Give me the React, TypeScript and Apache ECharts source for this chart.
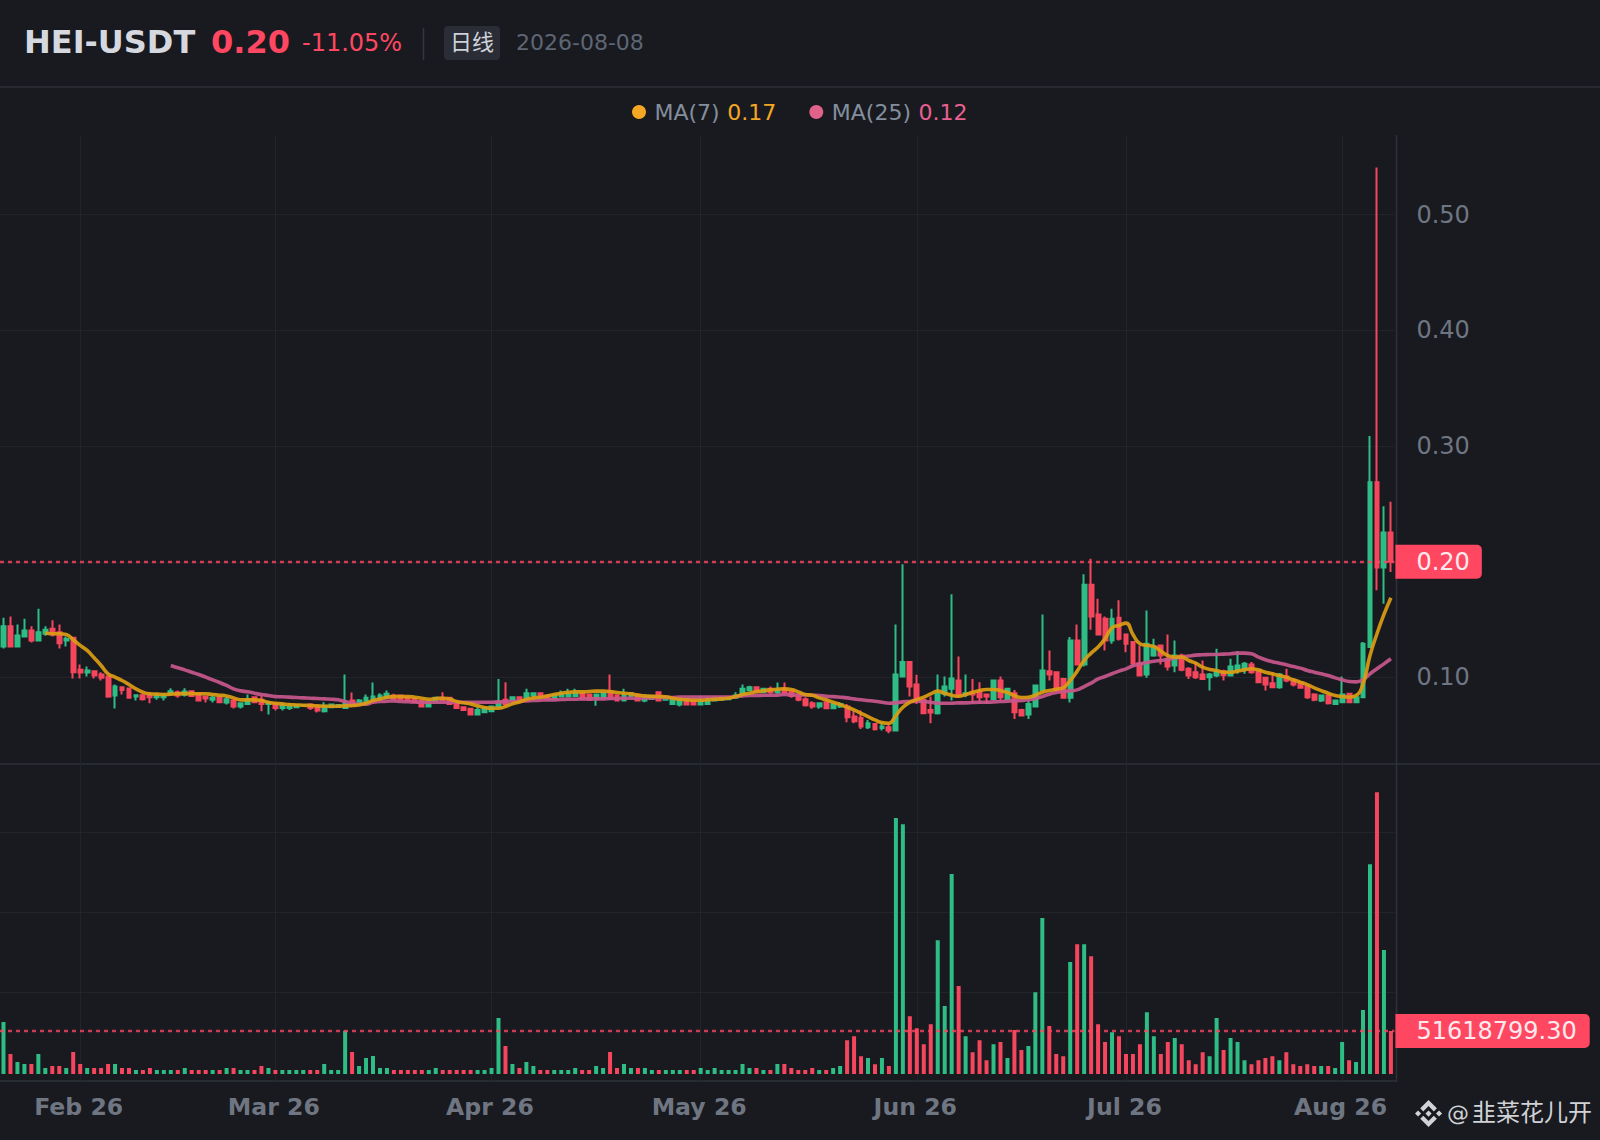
import React, { useEffect, useRef } from "react";
import * as echarts from "echarts";

const FONT = "'DejaVu Sans', 'Noto Sans CJK SC', sans-serif";
const BG = "#181a20";
const UP = "#2ebd85";
const DOWN = "#f6465d";
const ACCENT = "#ff4761";
const GRID = "#212429";
const AXIS = "#2d3238";
const MUTED = "#6f7682";

const startDate = [2026, 0, 21];
const barCount = 200;
const priceTicks = [0.1, 0.2, 0.3, 0.4, 0.5];
const volumeTicks = [100, 200, 300];
const lastPriceLevel = 0.1992;
const lastVolume = 51.6187993;

// [open, high, low, close]
const ohlc: number[][] = [
[.1268,.1517,.1251,.1442],[.1442,.1528,.1268,.1268],[.1268,.1459,.1268,.1364],[.1355,.1508,.1355,.1407],[.1407,.1442,.1303,.132],
[.132,.1595,.132,.1392],[.1378,.1442,.136,.1413],[.1421,.1494,.1355,.1372],[.1392,.1459,.1251,.1297],[.132,.1355,.1268,.1335],
[.1343,.1343,.0991,.1046],[.1066,.1113,.0991,.1043],[.1043,.1095,.1009,.1061],[.1055,.1055,.0991,.1017],[.1026,.1046,.0974,.0997],
[.1009,.1009,.0824,.0835],[.0844,.0939,.0732,.0922],[.0916,.0916,.0853,.0893],[.0905,.0905,.0824,.0824],[.0835,.0847,.0801,.0847],
[.0847,.0859,.0801,.0812],[.0847,.087,.0778,.083],[.083,.0864,.0807,.0844],[.083,.0864,.0801,.0844],[.0859,.0908,.0844,.0882],
[.0873,.0887,.0824,.0844],[.085,.0908,.0835,.0879],[.0882,.0887,.0835,.0841],[.0859,.0859,.0801,.0801],[.0835,.0844,.0784,.0818],
[.0807,.0859,.0784,.0824],[.083,.0844,.0778,.0786],[.0784,.0835,.0766,.0812],[.0801,.0815,.0732,.0749],[.0749,.0786,.0732,.0778],
[.0772,.0853,.0766,.0807],[.083,.0835,.0778,.0786],[.0807,.0844,.0709,.0772],[.0772,.0795,.068,.0784],[.0778,.0778,.0714,.0737],
[.0737,.0778,.0714,.0758],[.0737,.0778,.072,.0749],[.0743,.0766,.0737,.076],[.0755,.0766,.0749,.076],[.0766,.0778,.072,.0737],
[.0749,.0758,.0697,.0714],[.0709,.0786,.0697,.0755],[.0743,.0772,.0737,.0766],[.0745,.0766,.074,.0762],[.0737,.1026,.0729,.0772],
[.0801,.087,.0743,.0758],[.0772,.0815,.0766,.0801],[.0795,.0853,.0778,.0824],[.0807,.0957,.0786,.0835],[.0815,.0864,.0801,.0844],
[.0824,.0887,.0812,.0859],[.0844,.0859,.0807,.0815],[.0844,.0853,.0801,.0812],[.083,.0835,.0795,.0801],[.0815,.0824,.0778,.0786],
[.0801,.0807,.0743,.0749],[.0749,.0795,.0743,.0786],[.0795,.083,.0786,.0824],[.0824,.0873,.0795,.0801],[.0824,.083,.0766,.0772],
[.0778,.0786,.0729,.0737],[.0743,.0749,.0715,.072],[.0729,.0737,.0675,.068],[.068,.0749,.0675,.072],[.07,.0743,.0695,.0737],
[.0708,.0755,.07,.0749],[.0749,.0988,.0737,.0786],[.0807,.096,.0758,.0772],[.0801,.0835,.0795,.083],[.083,.0835,.0789,.0795],
[.0818,.0902,.0812,.0864],[.0847,.0873,.0807,.0864],[.0864,.0864,.0818,.0824],[.0844,.0849,.0809,.0815],[.0818,.0853,.0807,.0847],
[.0835,.0887,.083,.0858],[.0835,.0902,.083,.0858],[.0841,.0902,.083,.0864],[.0864,.087,.0807,.0812],[.0853,.0858,.0801,.0807],
[.0815,.0858,.0755,.0853],[.0824,.087,.0815,.0864],[.0873,.1026,.0807,.0815],[.0847,.0853,.0795,.0801],[.0801,.0902,.0795,.0844],
[.0835,.087,.083,.0864],[.0853,.0858,.0795,.0801],[.0801,.084,.0786,.0835],[.0815,.0847,.0809,.0841],[.0873,.0878,.0795,.0801],
[.0807,.0835,.0801,.083],[.0772,.0813,.0766,.0807],[.0766,.0813,.0749,.0807],[.0807,.0813,.076,.0766],[.0801,.0807,.076,.0766],
[.0766,.0835,.076,.0801],[.0772,.0835,.0766,.0801],[.0801,.083,.0795,.0824],[.0807,.083,.0801,.0824],[.0812,.0835,.0807,.083],
[.0824,.0873,.0818,.0844],[.0853,.0939,.0844,.0902],[.0889,.0928,.0879,.0916],[.0916,.0922,.0873,.0879],[.0873,.0908,.0868,.0902],
[.0902,.0922,.0853,.0873],[.0873,.0957,.0853,.0893],[.0902,.0957,.0853,.0873],[.0882,.0885,.0826,.0841],[.0853,.0858,.0795,.0807],
[.0812,.083,.0749,.076],[.0778,.0795,.0729,.0749],[.0749,.0784,.0729,.0778],[.0786,.0795,.0729,.0734],[.0734,.0778,.0729,.0772],
[.0749,.0786,.0737,.0772],[.0749,.0772,.0613,.0657],[.0662,.0714,.0605,.0622],[.0651,.0714,.0556,.0576],[.057,.0633,.0556,.0605],
[.0599,.0599,.0541,.0553],[.0564,.0613,.0541,.0576],[.057,.0599,.0518,.0541],[.0541,.1459,.0541,.1026],[.1009,.1978,.1009,.1133],
[.1133,.1141,.0835,.0922],[.0939,.1023,.0772,.0807],[.0807,.0807,.0685,.0691],[.072,.0836,.0605,.0697],[.0691,.1026,.068,.0859],
[.0859,.1009,.0836,.0922],[.0902,.1719,.0801,.0991],[.0974,.1182,.083,.0853],[.0853,.1026,.083,.0864],[.0864,.0988,.0772,.0853],
[.0873,.096,.0772,.083],[.0853,.0853,.0772,.0836],[.0815,.0974,.0807,.0974],[.0974,.1009,.0801,.083],[.0815,.0902,.0807,.0902],
[.0864,.0893,.0642,.07],[.072,.0729,.0665,.0671],[.068,.0801,.0642,.0772],[.0749,.0939,.0743,.0931],[.0893,.1545,.0887,.1061],
[.1055,.1234,.0974,.1026],[.1046,.1055,.0873,.0887],[.0988,.0997,.0818,.0824],[.0824,.1349,.0784,.132],[.132,.1459,.1104,.1113],
[.1113,.1892,.1095,.1802],[.1802,.2027,.1413,.1528],[.1545,.1681,.1372,.1372],[.1508,.1528,.1234,.132],[.132,.1595,.1291,.1508],
[.1517,.1667,.132,.1335],[.1372,.1372,.1219,.1291],[.1306,.1306,.1095,.1124],[.1124,.1277,.1009,.1017],[.1026,.158,.0997,.1291],
[.119,.1335,.1179,.1268],[.1277,.1286,.1113,.119],[.1162,.1372,.1061,.1095],[.1104,.132,.1046,.119],[.119,.1205,.1055,.1066],
[.1075,.1089,.0988,.1017],[.1046,.1133,.0988,.1003],[.1026,.1147,.098,.0988],[.1003,.1038,.0887,.1026],[.1017,.1248,.1003,.1046],
[.1055,.1066,.0974,.102],[.1017,.1162,.1009,.1095],[.1061,.1228,.1032,.1104],[.1075,.1133,.1032,.1118],[.1113,.1133,.1032,.1046],
[.1055,.1061,.0951,.096],[.0997,.1003,.0887,.0939],[.0951,.1046,.0911,.0916],[.0916,.1038,.0902,.1026],[.1009,.1075,.096,.0974],
[.098,.0986,.0922,.0939],[.096,.0965,.0902,.0911],[.0922,.0939,.0815,.083],[.0853,.0864,.0795,.0807],[.0801,.0853,.0789,.0844],
[.0844,.0853,.0766,.0778],[.0772,.0807,.0766,.0801],[.0786,.1009,.0778,.0853],[.0859,.0859,.0778,.0786],[.0786,.083,.0778,.083],
[.083,.1306,.0824,.1291],[.1263,.3087,.1263,.2688],[.2688,.5407,.1753,.195],[.195,.248,.1638,.2253],[.2253,.2518,.1912,.2],
];

const volumes: number[] = [
62.8,22.8,12.8,10.3,10.3,22.8,5.3,7.8,7.8,5.3,25.3,10.3,5.3,5.3,5.3,10.3,10.3,5.3,5.3,2.8,
2.8,5.3,2.8,2.8,2.8,2.8,5.3,2.8,2.8,2.8,2.8,2.8,5.3,5.3,2.8,2.8,2.8,7.8,5.3,2.8,
2.8,2.8,2.8,2.8,2.8,2.8,10.3,2.8,2.8,52,25.3,7.8,17.8,20.3,5.3,5.3,2.8,2.8,2.8,2.8,
2.8,2.8,5.3,2.8,2.8,2.8,2.8,2.8,2.8,2.8,5.3,67.8,32.8,10.3,5.3,12.8,7.8,2.8,2.8,2.8,
2.8,2.8,5.3,2.8,2.8,7.8,5.3,25.3,5.3,10.3,5.3,5.3,5.3,2.8,2.8,2.8,2.8,2.8,2.8,2.8,
5.3,2.8,5.3,2.8,2.8,2.8,10.3,5.3,5.3,2.8,2.8,10.3,10.3,5.3,2.8,2.8,5.3,2.8,2.8,5.3,
7.8,40,45,20,17.8,10,17.8,7.8,317.8,310,70,55,35,60,165,82.8,247.8,107.8,45,25,
40,15,35,37.8,17.8,52.8,27.8,32.8,100,192.8,57.8,22.8,20,137.8,160,160,145,60,37.8,50,
45,22.8,22.8,35,75,45,22.8,37.8,42.8,35,15,10,25,20,67.8,27.8,42.8,37.8,15,10,
15,17.8,20,15,25,10,7.8,10,7.8,7.8,7.8,5.3,37.8,15,12.8,77.8,260,350,152.8,51.6,
];

const ma7: (number | null)[] = [
null,null,null,null,null,null,.1384,.1378,.1378,.1372,.1326,.1277,.1234,.117,.1104,.1032,.1003,.0974,.0939,.0902,
.0873,.0859,.0856,.0853,.0856,.0859,.0861,.0861,.0859,.0859,.0853,.0847,.0841,.0824,.0807,.0807,.0807,.0801,.0786,.0778,
.0772,.0766,.0763,.076,.0758,.0755,.0752,.0752,.0752,.0755,.0758,.0763,.0778,.0801,.0815,.083,.0835,.0835,.0835,.083,
.0821,.0812,.0818,.0821,.0815,.0792,.0781,.0772,.0755,.074,.0734,.0734,.0749,.0772,.0789,.081,.0824,.083,.0841,.0853,
.0864,.0873,.0876,.0876,.0879,.0882,.0882,.0879,.087,.0864,.0859,.0847,.0841,.0838,.0835,.0833,.0821,.0812,.0807,.0804,
.0804,.0807,.0812,.0815,.0821,.0835,.0853,.0864,.0876,.0885,.0893,.0899,.0902,.0896,.0876,.0853,.0847,.0824,.0807,.0786,
.0766,.0743,.072,.0691,.0662,.0633,.061,.0605,.0671,.0743,.0786,.0809,.083,.0859,.0882,.0864,.0847,.0838,.0853,.0873,
.0887,.0896,.0896,.0887,.087,.0844,.0827,.083,.0847,.0873,.0887,.0899,.0911,.0974,.1055,.1147,.1211,.1263,.1335,.143,
.145,.147,.1372,.1291,.1277,.1268,.1228,.119,.1176,.1176,.1147,.1124,.1089,.1069,.1061,.1046,.1046,.1055,.1066,.1075,
.1066,.1046,.1032,.1017,.1003,.098,.096,.0939,.0911,.0887,.0864,.0844,.0836,.083,.0844,.0945,.119,.1378,.1545,.169,
];

const ma25: (number | null)[] = [
null,null,null,null,null,null,null,null,null,null,null,null,null,null,null,null,null,null,null,null,
null,null,null,null,.1104,.1084,.1066,.1046,.1026,.1003,.098,.0957,.0931,.0902,.0885,.0876,.0864,.0853,.0844,.0835,
.0833,.083,.0827,.0824,.0821,.0818,.0815,.0812,.0807,.0792,.0778,.0769,.0769,.0786,.0792,.0795,.0798,.0792,.079,.0788,
.0786,.0786,.0786,.0786,.0786,.0786,.0786,.0786,.0786,.0786,.0786,.0789,.0789,.0792,.0795,.0798,.0801,.0804,.0807,.0807,
.081,.0812,.0812,.0815,.0815,.0815,.0815,.0818,.0818,.0821,.0821,.0821,.0824,.0824,.0827,.0827,.0827,.083,.083,.083,
.083,.083,.083,.083,.083,.0835,.0841,.0844,.0844,.0847,.0847,.0847,.0853,.085,.0847,.085,.0847,.0844,.0838,.0835,
.083,.0824,.0815,.0807,.0801,.0795,.0786,.0778,.0781,.0789,.0792,.0795,.0792,.0786,.0778,.0778,.0778,.0781,.0781,.0784,
.0786,.0786,.0789,.0792,.0795,.0798,.0801,.0807,.0818,.0835,.0856,.087,.0879,.0885,.0893,.0922,.0951,.0988,.1009,.1032,
.1055,.1075,.1101,.1118,.113,.1141,.1147,.1156,.117,.1176,.1185,.1193,.1196,.1199,.1199,.1202,.1205,.1211,.1211,.1205,
.1176,.1153,.1136,.1124,.111,.1095,.1081,.1061,.1046,.1032,.1017,.0997,.098,.0965,.0962,.098,.1032,.1075,.1118,.1162,
];

const MONTHS = ["Jan", "Feb", "Mar", "Apr", "May", "Jun", "Jul", "Aug"];
const categories: string[] = [];
for (let i = 0; i < barCount; i++) {
  const d = new Date(Date.UTC(startDate[0], startDate[1], startDate[2] + i));
  categories.push(`${d.getUTCFullYear()}-${String(d.getUTCMonth() + 1).padStart(2, "0")}-${String(d.getUTCDate()).padStart(2, "0")}`);
}
const isMonthStart = (_i: number, v: string) => v.endsWith("-01");
const monthLabel = (v: string) => `${MONTHS[Number(v.slice(5, 7)) - 1]} ${v.slice(2, 4)}`;

const BINANCE =
  "M38.73 53.2l24.59-24.58 24.6 24.6 14.3-14.31L63.32 0 24.42 38.9zM0 63.31L14.3 49l14.31 14.31-14.31 14.3zM38.73 73.41L63.32 98l24.6-24.6 14.31 14.29-38.9 38.91-38.91-38.88-.02-.02zM98 63.31L112.3 49l14.31 14.3-14.31 14.32zM77.83 63.3L63.32 48.78 52.59 59.51l-1.24 1.23-2.54 2.54 14.51 14.5 14.51-14.47z";
echarts.graphic.registerShape("binance", echarts.graphic.extendPath(BINANCE, {}) as any);

const GRID_LEFT = -2;
const GRID_WIDTH = 1396.4;
// The reference's volume bars stand on a small foot below the zero line.
const BAR_FOOT = 2.2;

const txt = (x: number, y: number, text: string, fontSize: number, fill: string, fontWeight = "normal") => ({
  type: "text",
  x,
  y,
  style: { text, fontSize, fill, fontWeight, fontFamily: FONT, textVerticalAlign: "middle", textBaseline: "middle" },
});
const hline = (x1: number, x2: number, y: number, stroke: string, lineWidth = 1) => ({
  type: "line",
  shape: { x1, y1: y, x2, y2: y },
  style: { stroke, lineWidth },
});

function buildOption(): any {
  const markLine = (value: number, text: string, right: number) => ({
    silent: true,
    symbol: "none",
    animation: false,
    lineStyle: { color: "rgba(255,71,97,0.78)", width: 2.4, type: [4, 4] },
    label: {
      show: true,
      position: "end",
      distance: 1,
      formatter: text,
      color: "#fdeaee",
      fontSize: 24,
      fontFamily: FONT,
      backgroundColor: ACCENT,
      borderRadius: [0, 5, 5, 0],
      padding: [5, right, 5, 21],
      lineHeight: 24,
    },
    emphasis: { disabled: true },
    data: [{ yAxis: value }],
  });
  return {
    animation: false,
    backgroundColor: BG,
    legend: {
      left: 632,
      top: 101,
      padding: 0,
      icon: "circle",
      itemWidth: 14,
      itemHeight: 14,
      itemGap: 33,
      selectedMode: false,
      data: ["MA(7)", "MA(25)"],
      formatter: (n: string) => (n === "MA(7)" ? `{n|MA(7)}  {a|0.17}` : `{n|MA(25)}  {b|0.12}`),
      textStyle: {
        fontFamily: FONT,
        rich: {
          n: { fontFamily: FONT, fontSize: 22, color: "#848e9c", padding: [0, 0, 0, 3.5] },
          a: { fontFamily: FONT, fontSize: 22, color: "#f5a623" },
          b: { fontFamily: FONT, fontSize: 22, color: "#e8608f" },
        },
      },
    },
    grid: [
      { left: GRID_LEFT, width: GRID_WIDTH, top: 135, height: 629 },
      { left: GRID_LEFT, width: GRID_WIDTH, top: 764, height: 317 },
    ],
    xAxis: [
      {
        type: "category",
        gridIndex: 0,
        data: categories,
        axisLine: { show: false },
        axisTick: { show: false },
        axisLabel: { show: false },
        splitLine: { show: true, interval: isMonthStart, alignWithLabel: true, lineStyle: { color: GRID, width: 1 } },
      },
      {
        type: "category",
        gridIndex: 1,
        data: categories,
        axisLine: { show: false },
        axisTick: { show: false },
        axisLabel: {
          show: true,
          interval: isMonthStart,
          formatter: monthLabel,
          fontFamily: FONT,
          fontSize: 23.6,
          fontWeight: "bold",
          color: MUTED,
          margin: 14,
          padding: [0, 3, 0, 0],
        },
        splitLine: { show: true, interval: isMonthStart, alignWithLabel: true, lineStyle: { color: GRID, width: 1 } },
      },
    ],
    yAxis: [
      {
        type: "value",
        gridIndex: 0,
        position: "right",
        min: 0.02525,
        max: 0.5688,
        axisLine: { show: false },
        axisTick: { show: false, customValues: priceTicks },
        axisLabel: {
          show: true,
          customValues: priceTicks,
          formatter: (v: number) => v.toFixed(2),
          fontFamily: FONT,
          fontSize: 24,
          color: MUTED,
          margin: 22,
          align: "left",
        },
        splitLine: { show: true, lineStyle: { color: GRID, width: 1 } },
      },
      {
        type: "value",
        gridIndex: 1,
        position: "right",
        min: -8.75,
        max: 387.5,
        axisLine: { show: false },
        axisTick: { show: false, customValues: volumeTicks.map((v) => v + BAR_FOOT) },
        axisLabel: { show: false },
        splitLine: { show: true, lineStyle: { color: GRID, width: 1 } },
      },
    ],
    series: [
      {
        type: "candlestick",
        name: "HEI-USDT",
        xAxisIndex: 0,
        yAxisIndex: 0,
        barWidth: 4.4,
        data: ohlc.map(([o, h, l, c]) => [o, c, l, h]),
        itemStyle: { color: UP, color0: DOWN, borderColor: UP, borderColor0: DOWN, borderColorDoji: UP, borderWidth: 2 },
        markLine: markLine(lastPriceLevel, "0.20", 12),
      },
      {
        type: "line",
        name: "MA(7)",
        xAxisIndex: 0,
        yAxisIndex: 0,
        data: ma7,
        smooth: true,
        showSymbol: false,
        itemStyle: { color: "#f5a623" },
        lineStyle: { color: "#dc9c14", width: 3.6, opacity: 0.92 },
        z: 4,
      },
      {
        type: "line",
        name: "MA(25)",
        xAxisIndex: 0,
        yAxisIndex: 0,
        data: ma25,
        smooth: true,
        showSymbol: false,
        itemStyle: { color: "#e0628a" },
        lineStyle: { color: "#c9578c", width: 3.6, opacity: 0.92 },
        z: 3,
      },
      {
        type: "bar",
        name: "Volume",
        xAxisIndex: 1,
        yAxisIndex: 1,
        barWidth: 4,
        data: volumes.map((v, i) => ({
          value: v + BAR_FOOT,
          itemStyle: { color: ohlc[i][3] >= ohlc[i][0] ? UP : DOWN },
        })),
        markLine: markLine(lastVolume + BAR_FOOT, "51618799.30", 13),
      },
    ],
    graphic: {
      elements: [
        txt(24, 42, "HEI-USDT", 32, "#d5d8df", "bold"),
        txt(211, 42, "0.20", 32, ACCENT, "bold"),
        txt(302, 43, "-11.05%", 24, ACCENT),
        { type: "line", shape: { x1: 423.5, y1: 28, x2: 423.5, y2: 60 }, style: { stroke: "#33373e", lineWidth: 1.5 } },
        { type: "rect", shape: { x: 444, y: 26, width: 56, height: 34, r: 4 }, style: { fill: "#2a2d35" } },
        txt(450, 42, "日线", 22, "#cfd2d9"),
        txt(516, 42, "2026-08-08", 22, "#5e6673"),
        hline(0, 1600, 87, "#2e3138", 1.5),
        hline(0, 1600, 764, "#2d3036", 1.5),
        hline(0, 1397, 1081, AXIS, 1.5),
        { type: "line", shape: { x1: 1396.5, y1: 135, x2: 1396.5, y2: 1081 }, style: { stroke: AXIS, lineWidth: 1.5 } },
        { type: "binance", x: 1415, y: 1100, scaleX: 0.214, scaleY: 0.214, style: { fill: "#d0d2d6" } },
        txt(1447, 1113, "@", 22, "#d0d2d6"),
        txt(1472, 1113, "韭菜花儿开", 24, "#d0d2d6"),
      ],
    },
  };
}

export default function App() {
  const ref = useRef<HTMLDivElement>(null);
  useEffect(() => {
    document.body.style.margin = "0";
    document.body.style.background = BG;
    const chart = echarts.init(ref.current!, undefined, { renderer: "svg", width: 1600, height: 1140 });
    chart.setOption(buildOption());
    return () => chart.dispose();
  }, []);
  return <div ref={ref} style={{ width: 1600, height: 1140 }} />;
}
